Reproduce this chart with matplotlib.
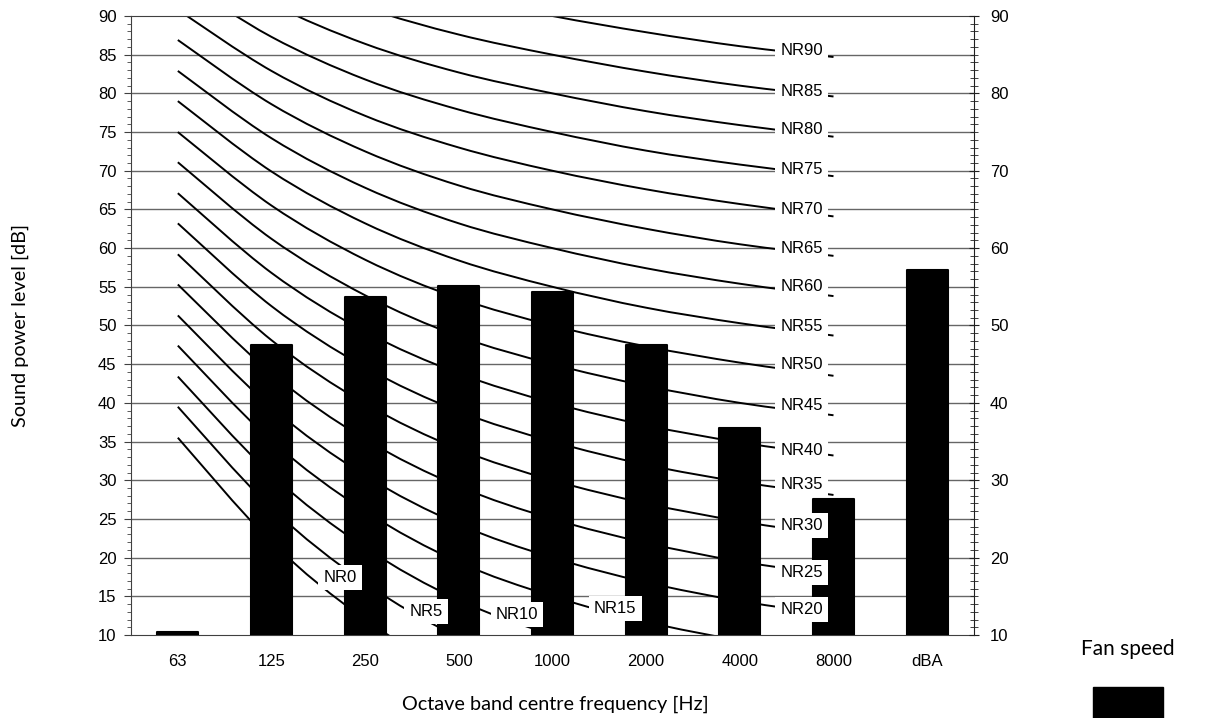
# NR (noise rating) curves with the octave band sound power levels of the fan.
import numpy as np
import matplotlib
matplotlib.use("Agg")
import matplotlib.pyplot as plt
from matplotlib.path import Path
from matplotlib.patches import PathPatch, Rectangle

# ====== categories ======
bands = ["63", "125", "250", "500", "1000", "2000", "4000", "8000", "dBA"]

# ====== fan sound power level per band [dB] ======
fan_levels = [10.4, 47.5, 53.7, 55.1, 54.3, 47.5, 36.8, 27.6, 57.2]

# ====== NR curves, 63 .. 8000 Hz [dB] ======
nr_levels = [0, 5, 10, 15, 20, 25, 30, 35, 40, 45, 50, 55, 60, 65, 70, 75, 80, 85, 90]
nr_curves = [
    [35.5, 22.0, 12.0, 4.8, 0.0, -3.5, -6.1, -8.0],
    [39.5, 26.4, 16.7, 9.7, 5.0, 1.6, -1.0, -2.9],
    [43.4, 30.7, 21.3, 14.5, 10.0, 6.7, 4.2, 2.3],
    [47.4, 35.1, 26.0, 19.4, 15.0, 11.7, 9.3, 7.5],
    [51.3, 39.4, 30.6, 24.3, 20.0, 16.8, 14.4, 12.6],
    [55.3, 43.8, 35.3, 29.2, 25.0, 21.9, 19.5, 17.8],
    [59.2, 48.1, 39.9, 34.0, 30.0, 27.0, 24.7, 22.9],
    [63.2, 52.5, 44.6, 38.9, 35.0, 32.0, 29.8, 28.1],
    [67.1, 56.8, 49.2, 43.8, 40.0, 37.1, 34.9, 33.2],
    [71.1, 61.2, 53.9, 48.6, 45.0, 42.2, 40.0, 38.4],
    [75.0, 65.5, 58.5, 53.5, 50.0, 47.3, 45.2, 43.5],
    [79.0, 69.9, 63.2, 58.4, 55.0, 52.3, 50.3, 48.7],
    [82.9, 74.2, 67.8, 63.2, 60.0, 57.4, 55.4, 53.8],
    [86.9, 78.6, 72.5, 68.1, 65.0, 62.5, 60.5, 59.0],
    [90.8, 82.9, 77.1, 73.0, 70.0, 67.6, 65.7, 64.1],
    [94.8, 87.3, 81.8, 77.9, 75.0, 72.6, 70.8, 69.3],
    [98.7, 91.6, 86.4, 82.7, 80.0, 77.7, 75.9, 74.4],
    [102.7, 96.0, 91.1, 87.6, 85.0, 82.8, 81.0, 79.6],
    [106.6, 100.3, 95.7, 92.5, 90.0, 87.9, 86.1, 84.7],
]

# label positions (x in band index, y in dB) for the NR tags
label_x = [1.73, 2.65, 3.62, 4.67] + [6.66] * 15
label_y = [17.4, 13.0, 12.6, 13.4, 13.3, 18.1, 24.1, 29.4, 33.9, 39.6, 45.0,
           49.9, 55.0, 60.0, 65.0, 70.2, 75.3, 80.3, 85.5]

TICK_FONT = "Liberation Sans"
TITLE_FONT = "Lato"


def smooth_path(xs, ys):
    """Excel-like smoothed line through the points as cubic bezier segments."""
    pts = np.column_stack([xs, ys]).astype(float)
    n = len(pts)
    verts = [pts[0]]
    codes = [Path.MOVETO]
    for i in range(n - 1):
        p0 = pts[i - 1] if i > 0 else pts[i]
        p1 = pts[i]
        p2 = pts[i + 1]
        p3 = pts[i + 2] if i + 2 < n else pts[i + 1]
        verts += [p1 + (p2 - p0) / 6, p2 - (p3 - p1) / 6, p2]
        codes += [Path.CURVE4] * 3
    return Path(verts, codes)


fig = plt.figure(figsize=(12.25, 7.18), dpi=100)
ax = fig.add_axes([131 / 1225, 1 - 635 / 718, (974 - 131) / 1225, (635 - 16) / 718])

x = np.arange(len(bands))

# grid
for g in range(15, 90, 5):
    ax.axhline(g, color="#666666", lw=1.0, zorder=1)

# NR curves
for vals in nr_curves:
    patch = PathPatch(smooth_path(x[:len(vals)], vals), fill=False,
                      edgecolor="black", lw=1.4, zorder=2)
    ax.add_patch(patch)

# fan bars
ax.bar(x, fan_levels, width=0.44, color="black", edgecolor="black",
       linewidth=1.5, joinstyle="round", zorder=3)

# NR tags
for lvl, lx, ly in zip(nr_levels, label_x, label_y):
    ax.text(lx, ly, f"NR{lvl}", ha="center", va="center", fontsize=12,
            family=TICK_FONT, zorder=5,
            bbox=dict(boxstyle="square,pad=0.3", fc="white", ec="none"))

ax.set_xlim(-0.5, len(bands) - 0.5)
ax.set_ylim(10, 90)
ax.set_xticks(x)
ax.set_xticklabels(bands, family=TICK_FONT, fontsize=12)
ax.tick_params(axis="x", length=0, pad=14)
ax.set_yticks(range(10, 91, 5))
ax.set_yticks(range(10, 91, 1), minor=True)
ax.tick_params(axis="y", which="major", direction="out", length=5, pad=5.5,
               labelsize=12, color="#404040")
ax.tick_params(axis="y", which="minor", direction="out", length=3, color="#404040")
for lab in ax.get_yticklabels():
    lab.set_family(TICK_FONT)
for side in ["left", "top", "bottom"]:
    ax.spines[side].set_color("#404040")
ax.spines["right"].set_visible(False)

# right hand axis
ax2 = ax.twinx()
ax2.set_ylim(10, 90)
ax2.set_yticks(range(10, 91, 10))
ax2.set_yticks(range(10, 91, 1), minor=True)
ax2.tick_params(axis="y", which="major", direction="inout", length=7, pad=8,
                labelsize=12, color="#202020")
ax2.tick_params(axis="y", which="minor", direction="inout", length=5.5, color="#202020")
for lab in ax2.get_yticklabels():
    lab.set_family(TICK_FONT)
for side in ["left", "top", "bottom"]:
    ax2.spines[side].set_visible(False)
ax2.spines["right"].set_color("#202020")

# axis titles
fig.text(20 / 1225, 1 - 325 / 718, "Sound power level [dB]", rotation=90,
         ha="center", va="center", fontsize=14.3, family=TITLE_FONT)
fig.text(555 / 1225, 1 - 704 / 718, "Octave band centre frequency [Hz]",
         ha="center", va="center", fontsize=14.3, family=TITLE_FONT)

# legend
fig.text(1128 / 1225, 1 - 649 / 718, "Fan speed", ha="center", va="center",
         fontsize=15, family=TITLE_FONT)
fig.patches.append(Rectangle((1093 / 1225, 0), 70 / 1225, 31 / 718,
                             transform=fig.transFigure, color="black"))

fig.savefig("out.png", dpi=100)
